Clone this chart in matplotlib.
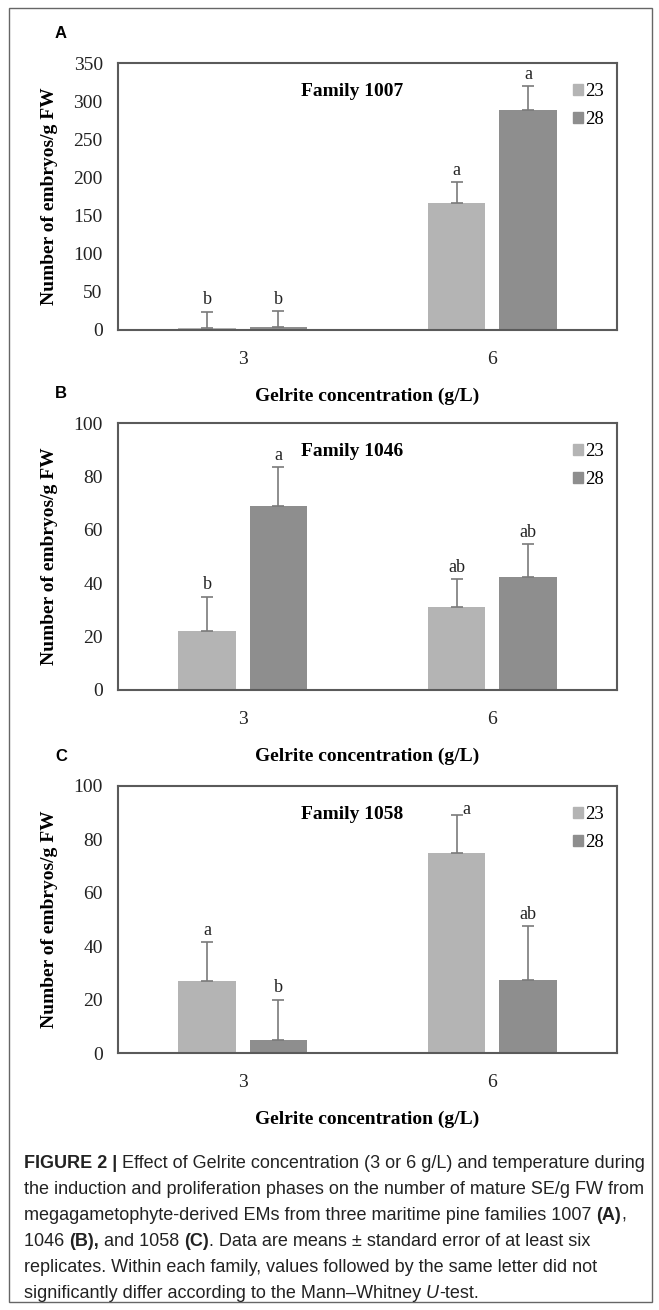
import matplotlib
matplotlib.use('Agg')
import matplotlib.pyplot as plt
from matplotlib.patches import Rectangle, Patch
import numpy as np

# data
conc = ['3', '6']
temps = ['23', '28']
families = ['Family 1007', 'Family 1046', 'Family 1058']
panel_tags = ['A', 'B', 'C']
ymax = [350, 100, 100]
ystep = [50, 20, 20]

mean_23 = [[2, 167], [22, 31], [27, 75]]
mean_28 = [[4, 288], [69, 42.5], [5, 27.5]]
se_23 = [[22, 27], [13, 10.5], [14.5, 14]]
se_28 = [[21, 32], [14.5, 12], [15, 20]]
let_23 = [['b', 'a'], ['b', 'ab'], ['a', 'a']]
let_28 = [['b', 'a'], ['a', 'ab'], ['b', 'ab']]

caption = [
    [('FIGURE 2 | ', 'bold', 'normal'), ('Effect of Gelrite concentration (3 or 6 g/L) and temperature during', 'normal', 'normal')],
    [('the induction and proliferation phases on the number of mature SE/g FW from', 'normal', 'normal')],
    [('megagametophyte-derived EMs from three maritime pine families 1007 ', 'normal', 'normal'), ('(A)', 'bold', 'normal'), (',', 'normal', 'normal')],
    [('1046 ', 'normal', 'normal'), ('(B),', 'bold', 'normal'), (' and 1058 ', 'normal', 'normal'), ('(C)', 'bold', 'normal'), ('. Data are means \u00b1 standard error of at least six', 'normal', 'normal')],
    [('replicates. Within each family, values followed by the same letter did not', 'normal', 'normal')],
    [('significantly differ according to the Mann\u2013Whitney ', 'normal', 'normal'), ('U', 'normal', 'italic'), ('-test.', 'normal', 'normal')],
]

W, H = 659, 1310
fig = plt.figure(figsize=(W / 100, H / 100), dpi=100)
serif = 'Liberation Serif'
sans = 'Liberation Sans'
c23 = '#b4b4b4'
c28 = '#8e8e8e'
edge = '#5a5a5a'

# outer frame
fig.patches.append(Rectangle((9 / W, 1 - 1302 / H), 643 / W, 1294 / H, transform=fig.transFigure,
                             fill=False, edgecolor='#666666', lw=1.0))

ax_bottoms = [330, 690, 1053]   # pixel row of the zero line
ax_h = 267
x = np.arange(len(conc))
bw = 0.23
off = 0.143

for i in range(3):
    ax = fig.add_axes([118 / W, 1 - ax_bottoms[i] / H, 499 / W, ax_h / H])
    ax.bar(x - off, mean_23[i], bw, color=c23, zorder=2)
    ax.bar(x + off, mean_28[i], bw, color=c28, zorder=2)
    ax.errorbar(x - off, mean_23[i], yerr=[np.zeros(2), se_23[i]], fmt='none', ecolor='#7a7a7a',
                elinewidth=1.2, capsize=4, capthick=1.2, zorder=3)
    ax.errorbar(x + off, mean_28[i], yerr=[np.zeros(2), se_28[i]], fmt='none', ecolor='#7a7a7a',
                elinewidth=1.2, capsize=4, capthick=1.2, zorder=3)
    for j in range(2):
        top = mean_23[i][j] + se_23[i][j]
        if i == 2 and j == 1:
            ax.text(x[j] - off + 0.04, top - ymax[i] * 0.01, let_23[i][j], ha='center', va='bottom',
                    family=serif, fontsize=13, color='#222222')
        else:
            ax.text(x[j] - off, top + ymax[i] * 0.012, let_23[i][j], ha='center', va='bottom',
                    family=serif, fontsize=13, color='#222222')
        top = mean_28[i][j] + se_28[i][j]
        ax.text(x[j] + off, top + ymax[i] * 0.012, let_28[i][j], ha='center', va='bottom',
                family=serif, fontsize=13, color='#222222')

    ax.set_xlim(-0.5, 1.5)
    ax.set_ylim(0, ymax[i])
    ax.set_yticks(np.arange(0, ymax[i] + 1, ystep[i]))
    ax.set_xticks(x)
    ax.set_xticklabels(conc)
    ax.tick_params(length=0, labelsize=14)
    ax.tick_params(axis='x', pad=15)
    ax.tick_params(axis='y', pad=11)
    for lab in ax.get_xticklabels() + ax.get_yticklabels():
        lab.set_family(serif)
        lab.set_color('#222222')
    for s in ax.spines.values():
        s.set_color(edge)
        s.set_linewidth(1.5)

    ax.set_ylabel('Number of embryos/g FW', family=serif, fontweight='bold', fontsize=14)
    ax.yaxis.set_label_coords(-0.12, 0.5)
    ax.set_xlabel('Gelrite concentration (g/L)', family=serif, fontweight='bold', fontsize=14)
    ax.xaxis.set_label_coords(0.5, -0.215)

    ax.text(0.47, 0.895, families[i], transform=ax.transAxes, ha='center', va='center',
            family=serif, fontweight='bold', fontsize=14)

    handles = [Patch(color=c23), Patch(color=c28)]
    ax.legend(handles, temps, loc='upper right', bbox_to_anchor=(1.0, 0.975), frameon=False,
              handlelength=0.55, handleheight=0.55, handletextpad=0.12, labelspacing=0.6,
              borderaxespad=0.3, prop={'family': serif, 'size': 13.5})

    fig.text(55 / W, 1 - (ax_bottoms[i] - ax_h - 30) / H, panel_tags[i], family=sans,
             fontweight='bold', fontsize=12, ha='left', va='center')

# caption, drawn piece by piece so bold / italic parts sit inline
renderer = fig.canvas.get_renderer()
cap_size = 10.0
probe = fig.text(0, 0, ''.join(p[0] for p in caption[0]), family=sans, fontsize=cap_size)
wpx = probe.get_window_extent(renderer).width
probe.remove()
cap_size = cap_size * 622 / wpx

y0 = 1163
for k, line in enumerate(caption):
    xpos = 24
    ypix = y0 + k * 26.2
    for txt, wt, st in line:
        t = fig.text(xpos / W, 1 - ypix / H, txt, family=sans, fontweight=wt, fontstyle=st,
                     fontsize=cap_size, ha='left', va='center', color='#222222')
        xpos += t.get_window_extent(renderer).width

fig.savefig('out.png', dpi=100)
